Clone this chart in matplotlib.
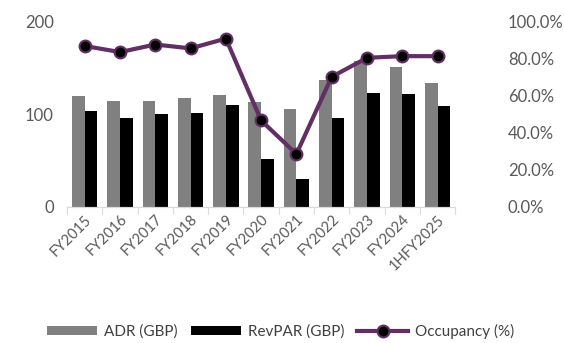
import matplotlib.pyplot as plt
import numpy as np
from matplotlib.ticker import PercentFormatter

# Hotel KPIs by financial year
periods = ["FY2015", "FY2016", "FY2017", "FY2018", "FY2019", "FY2020",
           "FY2021", "FY2022", "FY2023", "FY2024", "1HFY2025"]
adr = [120, 115, 115, 118, 121, 113, 106, 137, 158, 151, 134]
revpar = [104, 96, 100, 101, 110, 52, 30, 96, 123, 122, 109]
occupancy = [0.87, 0.837, 0.878, 0.857, 0.91, 0.467, 0.286, 0.703, 0.806, 0.815, 0.815]

GREY = "#808080"
PURPLE = "#612F63"
TXT = "#595959"

plt.rcParams["font.family"] = ["Lato", "DejaVu Sans"]
plt.rcParams["font.size"] = 10.5

fig = plt.figure(figsize=(5.64, 3.43), dpi=100)
ax = fig.add_axes([0.119, 0.397, 0.688, 0.539])
ax2 = ax.twinx()

x = np.arange(len(periods))
w = 0.36
ax.bar(x - w / 2, adr, w, color=GREY, label="ADR (GBP)", zorder=2)
ax.bar(x + w / 2, revpar, w, color="black", label="RevPAR (GBP)", zorder=2)

ax2.plot(x, occupancy, color=PURPLE, lw=3, marker="o", ms=8.5,
         mfc="black", mec=PURPLE, mew=1.5, label="Occupancy (%)", zorder=3)

ax.set_xlim(-0.5, len(periods) - 0.5)
ax.set_ylim(0, 200)
ax.set_yticks([0, 100, 200])
ax2.set_ylim(0, 1.0)
ax2.set_yticks(np.arange(0, 1.01, 0.2))
ax2.yaxis.set_major_formatter(PercentFormatter(1.0, decimals=1))

for a in (ax, ax2):
    for s in ("top", "left", "right"):
        a.spines[s].set_visible(False)
    a.spines["bottom"].set_color("#D9D9D9")
    a.tick_params(axis="y", length=0, colors=TXT, labelsize=12)
ax.tick_params(axis="y", pad=9.5)
ax2.tick_params(axis="y", pad=38)

# category boundary ticks on the x axis, labels centred on each category
ax.set_xticks(np.arange(-0.5, len(periods)), minor=False)
ax.set_xticklabels([])
ax.tick_params(axis="x", which="major", length=5, color="#D9D9D9")
ax.set_xticks(x, minor=True)
ax.set_xticklabels(periods, minor=True, rotation=45, ha="right",
                   rotation_mode="anchor", color=TXT)
ax.tick_params(axis="x", which="minor", length=0, pad=4)

handles = ax.get_legend_handles_labels()[0] + ax2.get_legend_handles_labels()[0]
labels = ["ADR (GBP)", "RevPAR (GBP)", "Occupancy (%)"]
fig.legend(handles, labels, loc="center", bbox_to_anchor=(0.497, 0.033),
           ncol=3, frameon=False, handlelength=3.3, handleheight=0.55,
           handletextpad=0.45, columnspacing=0.85, labelcolor="#404040",
           fontsize=11)

fig.savefig("out.png", dpi=100)
